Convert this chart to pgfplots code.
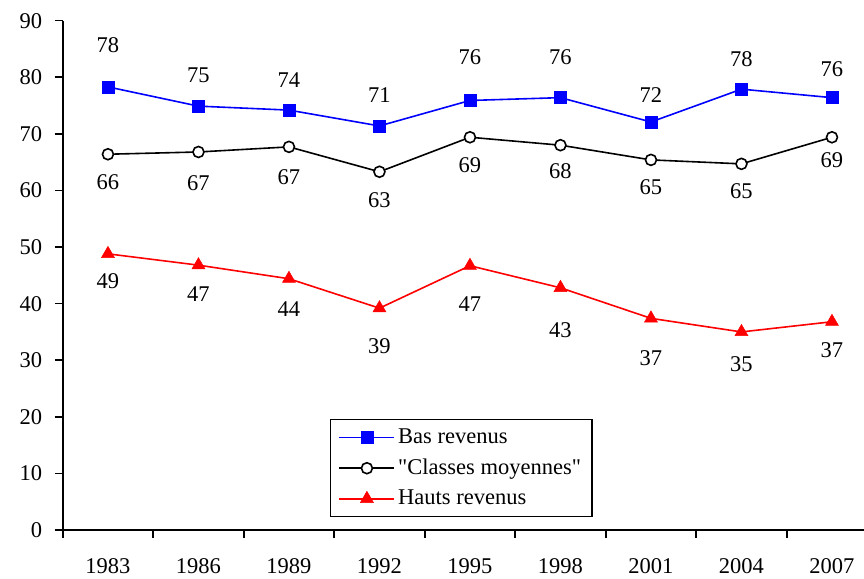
\documentclass[border=0pt]{standalone}
\usepackage{pgfplots}
\pgfplotsset{compat=1.18}
\usepackage{fontspec}
\setmainfont{Liberation Serif}
\definecolor{pblue}{RGB}{0,0,255}
\definecolor{pred}{RGB}{255,0,0}
\begin{document}
\fontsize{22.5bp}{27bp}\selectfont
\begin{tikzpicture}[x=1bp,y=1bp]
\path[use as bounding box] (0,0) rectangle (864,579);
\begin{axis}[
  at={(62.7bp,49bp)}, anchor=south west,
  scale only axis, width=801.3bp, height=509.3bp,
  xmin=-0.5, xmax=8.354, ymin=0, ymax=90,
  axis lines=left,
  axis line style={-, line width=1.6bp, black},
  every tick/.style={black, line width=1.6bp},
  tick align=outside, major tick length=8bp,
  xtick={-0.5,0.5,1.5,2.5,3.5,4.5,5.5,6.5,7.5},
  xticklabels={},
  extra x ticks={0,1,2,3,4,5,6,7,8},
  extra x tick labels={1983,1986,1989,1992,1995,1998,2001,2004,2007},
  extra x tick style={tick style={draw=none}},
  ytick={0,10,...,90},
  /pgf/number format/assume math mode=true,
  tick label style={font=\fontsize{22.5bp}{27bp}\selectfont},
  xticklabel style={yshift=-13bp},
  yticklabel style={xshift=-5bp},
  legend style={at={(0.3336,0.2179)}, anchor=north west, draw=black, line width=1.2bp,
    font=\fontsize{22.5bp}{27bp}\selectfont, inner xsep=8bp, inner ysep=8bp, row sep=10bp,
    nodes={inner ysep=1bp, inner xsep=3bp}},
  legend cell align=left,
  legend image code/.code={\draw[mark repeat=2,mark phase=2,line width=1.6bp,#1] plot coordinates {(0bp,0bp) (27.5bp,0bp) (55bp,0bp)};},
  clip=false,
]
\addplot[pblue, line width=1.6bp, mark=square*, mark size=6bp, mark options={solid, fill=pblue, line width=0.5bp}]
  coordinates {(0,78.3) (1,74.9) (2,74.2) (3,71.4) (4,75.9) (5,76.4) (6,72.1) (7,77.9) (8,76.4)};
\addlegendentry{Bas revenus}
\addplot[black, line width=1.6bp, mark=*, mark size=5.5bp, mark options={solid, fill=white, line width=1.6bp}]
  coordinates {(0,66.4) (1,66.8) (2,67.7) (3,63.3) (4,69.4) (5,68.0) (6,65.4) (7,64.7) (8,69.4)};
\addlegendentry{\textquotedbl Classes moyennes\textquotedbl}
\addplot[pred, line width=1.6bp, mark=triangle*, mark size=7.5bp, mark options={solid, fill=pred, line width=0.5bp}]
  coordinates {(0,48.8) (1,46.8) (2,44.4) (3,39.2) (4,46.7) (5,42.8) (6,37.4) (7,35.0) (8,36.8)};
\addlegendentry{Hauts revenus}
% data labels
\addplot[draw=none, mark=none, forget plot, nodes near coords, point meta=explicit symbolic,
  nodes near coords align=center, every node near coord/.style={font=\fontsize{22.5bp}{27bp}\selectfont, black, anchor=center, inner sep=0pt}]
  table[meta=lab] {
x y lab
0 85.7 78
1 80.4 75
2 79.5 74
3 76.9 71
4 83.6 76
5 83.6 76
6 76.9 72
7 83.2 78
8 81.5 76
0 61.5 66
1 61.3 67
2 62.4 67
3 58.3 63
4 64.5 69
5 63.4 68
6 60.6 65
7 59.9 65
8 65.4 69
0 44.0 49
1 41.7 47
2 39.1 44
3 32.5 39
4 39.9 47
5 35.3 43
6 30.4 37
7 29.3 35
8 31.8 37
};
\end{axis}
\end{tikzpicture}
\end{document}
